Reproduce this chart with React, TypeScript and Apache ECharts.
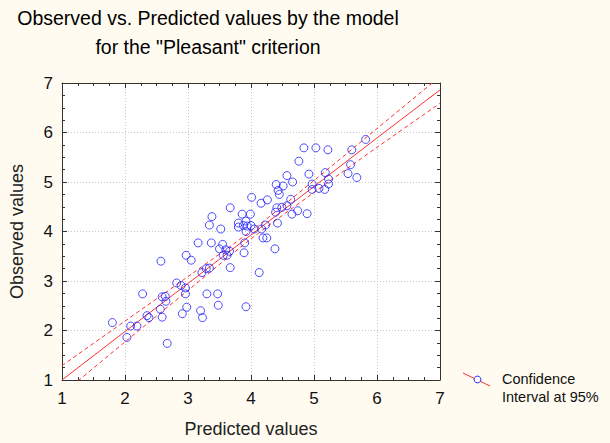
import React, { useEffect, useRef } from "react";
import * as echarts from "echarts";

// Scatter data
const predicted = [
  1.80, 2.03, 2.09, 2.19, 2.28, 2.35, 2.38, 2.57, 2.56, 2.59,
  2.59, 2.64, 2.65, 2.67, 2.82, 2.89, 2.96, 2.96, 2.98, 2.91,
  2.97, 3.05, 3.16, 3.37, 3.20, 3.23, 3.22, 3.29, 3.34, 3.30,
  3.47, 3.48, 3.55, 3.50, 3.60, 3.66, 3.56, 3.62, 3.67, 3.89,
  3.90, 3.92, 4.13, 4.19, 4.25, 4.38, 3.67, 3.38, 3.34, 3.52,
  3.86, 3.99, 4.01, 3.80, 3.92, 3.88, 3.80, 3.94, 4.00, 3.92,
  4.05, 4.17, 4.23, 4.16, 4.26, 4.63, 4.57, 4.41, 4.39, 4.49,
  4.65, 4.74, 4.89, 4.42, 4.40, 4.51, 4.43, 4.45, 4.57, 4.66,
  4.76, 4.84, 5.03, 5.22, 4.92, 4.97, 4.97, 5.08, 5.18, 5.23,
  5.23, 5.17, 5.60, 5.58, 5.54, 5.68, 5.82,
];
const observed = [
  2.16, 1.86, 2.09, 2.09, 2.74, 2.30, 2.26, 3.40, 2.43, 2.27,
  2.68, 2.69, 2.59, 1.74, 2.96, 2.91, 2.86, 2.74, 2.47, 2.34,
  3.52, 3.42, 3.77, 3.77, 2.40, 2.26, 3.17, 3.25, 3.26, 2.74,
  2.74, 2.51, 3.74, 3.65, 3.63, 3.60, 3.52, 3.52, 3.27, 3.57,
  3.77, 2.48, 3.17, 3.87, 3.87, 3.65, 4.48, 4.30, 4.13, 4.05,
  4.35, 4.35, 4.69, 4.17, 4.21, 4.12, 4.09, 4.11, 4.12, 4.00,
  4.05, 4.05, 4.13, 4.57, 4.64, 4.65, 4.52, 4.48, 4.39, 4.49,
  4.35, 4.42, 4.36, 4.17, 4.95, 4.92, 4.83, 4.75, 5.13, 5.00,
  5.42, 5.69, 5.69, 5.65, 5.16, 4.96, 4.85, 4.87, 5.19, 5.06,
  4.96, 4.85, 5.65, 5.35, 5.17, 5.09, 5.86,
];

// Fitted line and 95% confidence band
const fitX = [1, 2, 3, 4, 5, 6, 7];
const fitY = [1.0, 1.98, 2.95, 3.93, 4.91, 5.89, 6.86];
const upperY = [1.29, 2.19, 3.09, 4.01, 5.03, 6.08, 7.13];
const lowerY = [0.71, 1.77, 2.81, 3.85, 4.79, 5.70, 6.59];

const axisTicks = [1, 2, 3, 4, 5, 6, 7];

const titleLines = ["Observed vs. Predicted values by the model", 'for the "Pleasant" criterion'];
const xName = "Predicted values";
const yName = "Observed values";
const legendText = ["Confidence", "Interval at 95%"];

const FONT = "'Liberation Sans', Arial, sans-serif";

export default function App() {
  const ref = useRef<HTMLDivElement>(null);

  useEffect(() => {
    if (!ref.current) return;
    const chart = echarts.init(ref.current, undefined, { renderer: "svg" });

    const pts = predicted.map((x, i) => [x, observed[i]]);
    const toPairs = (ys: number[]) => fitX.map((x, i) => [x, ys[i]]);
    const minV = axisTicks[0];
    const maxV = axisTicks[axisTicks.length - 1];

    const mainAxis = (name: string, gap: number, isY: boolean) => ({
      type: "value",
      min: minV,
      max: maxV,
      interval: 1,
      name,
      nameLocation: "middle",
      nameGap: gap,
      nameTextStyle: { fontSize: 18, color: "#222", fontFamily: FONT },
      axisLine: { show: true, onZero: false, lineStyle: { color: "#333", width: 1 } },
      axisTick: { show: true, inside: true, length: 5, lineStyle: { color: "#333" } },
      minorTick: { show: true, splitNumber: 4, length: 3, lineStyle: { color: "#333" } },
      axisLabel: { fontSize: 17, color: "#111", fontFamily: FONT, margin: isY ? 9 : 10 },
      splitLine: { show: true, lineStyle: { type: [1, 2], color: "#c8c8c8", width: 1 } },
    });
    const sideAxis = (position: string) => ({
      type: "value",
      min: minV,
      max: maxV,
      interval: 1,
      position,
      axisLine: { show: true, onZero: false, lineStyle: { color: "#333", width: 1 } },
      axisTick: { show: true, inside: true, length: 5, lineStyle: { color: "#333" } },
      minorTick: { show: true, splitNumber: 4, length: 3, lineStyle: { color: "#333" } },
      axisLabel: { show: false },
      splitLine: { show: false },
    });

    chart.setOption({
      animation: false,
      backgroundColor: "#fffbf0",
      grid: {
        left: 61,
        right: 170,
        top: 83,
        bottom: 61,
        show: true,
        backgroundColor: "#ffffff",
        borderWidth: 0,
      },
      xAxis: [
        { ...mainAxis(xName, 40, false), position: "bottom" },
        sideAxis("top"),
      ],
      yAxis: [
        { ...mainAxis(yName, 36, true), position: "left" },
        sideAxis("right"),
      ],
      series: [
        {
          type: "line",
          data: toPairs(upperY),
          smooth: 0.3,
          showSymbol: false,
          symbol: "none",
          lineStyle: { color: "#ff3030", width: 1, type: [4, 3] },
          z: 3,
        },
        {
          type: "line",
          data: toPairs(lowerY),
          smooth: 0.3,
          showSymbol: false,
          symbol: "none",
          lineStyle: { color: "#ff3030", width: 1, type: [4, 3] },
          z: 3,
        },
        {
          type: "line",
          data: toPairs(fitY),
          showSymbol: false,
          symbol: "none",
          lineStyle: { color: "#ff3030", width: 1 },
          z: 3,
        },
        {
          type: "scatter",
          data: pts,
          symbol: "circle",
          symbolSize: 8,
          itemStyle: { color: "rgba(0,0,0,0)", borderColor: "#2020ff", borderWidth: 1 },
          z: 4,
        },
      ],
      graphic: [
        {
          type: "text",
          x: 208,
          y: 3,
          style: {
            text: titleLines.join("\n"),
            fontSize: 19.5,
            lineHeight: 29,
            fontFamily: FONT,
            fill: "#000",
            align: "center",
            verticalAlign: "top",
          },
        },
        {
          type: "line",
          shape: { x1: 463, y1: 373, x2: 490, y2: 386 },
          style: { stroke: "#ff3030", lineWidth: 1 },
        },
        {
          type: "circle",
          shape: { cx: 477.5, cy: 379.5, r: 3.4 },
          style: { fill: "#ffffff", stroke: "#2020ff", lineWidth: 1 },
        },
        {
          type: "text",
          x: 502,
          y: 370,
          style: {
            text: legendText.join("\n"),
            fontSize: 14.5,
            lineHeight: 18,
            fontFamily: FONT,
            fill: "#111",
            align: "left",
            verticalAlign: "top",
          },
        },
      ],
    });

    return () => chart.dispose();
  }, []);

  return (
    <div
      ref={ref}
      style={{ position: "fixed", left: 0, top: 0, width: 610, height: 443 }}
    />
  );
}
